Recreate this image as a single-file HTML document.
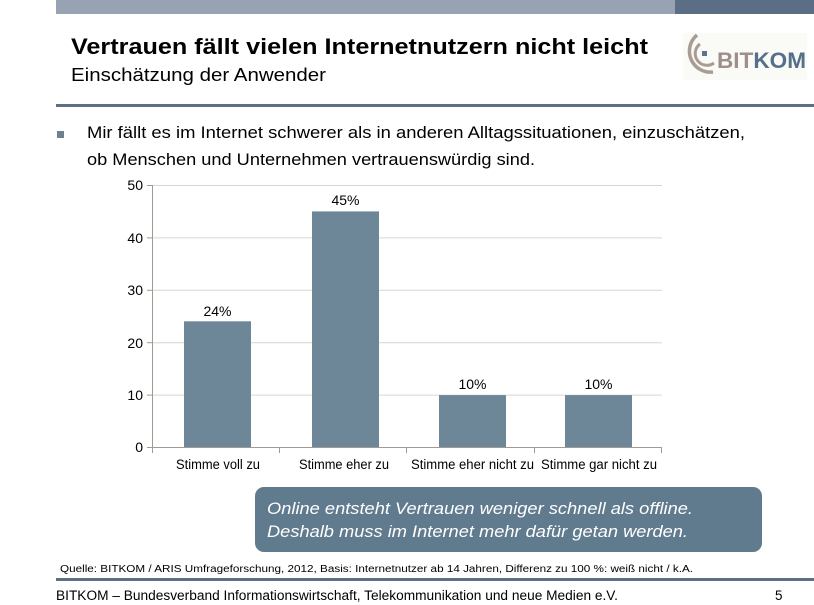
<!DOCTYPE html>
<html><head><meta charset="utf-8"><style>
html,body{margin:0;padding:0;background:#fff;}
svg{display:block;}
text{font-family:"Liberation Sans",Arial,sans-serif;}
</style></head><body>
<svg width="814" height="605" viewBox="0 0 814 605" xmlns="http://www.w3.org/2000/svg">
<rect x="0" y="0" width="814" height="605" fill="#fff"/>
<!-- top bar -->
<rect x="56" y="0" width="619" height="14" fill="#97a3b2"/>
<rect x="675" y="0" width="139" height="14" fill="#5b6e85"/>
<!-- title -->
<text x="71" y="54" font-size="22" font-weight="bold" fill="#000" textLength="577" lengthAdjust="spacingAndGlyphs">Vertrauen fällt vielen Internetnutzern nicht leicht</text>
<text x="71" y="81" font-size="18" fill="#000" textLength="255" lengthAdjust="spacingAndGlyphs">Einschätzung der Anwender</text>
<!-- logo -->
<rect x="683" y="33" width="124" height="47" fill="#fafaf7"/>
<path d="M 697 35 A 21 21 0 0 0 713 72" fill="none" stroke="#a99c95" stroke-width="3.5"/>
<path d="M 700 44 A 11 11 0 0 0 714 63" fill="none" stroke="#a99c95" stroke-width="3"/>
<rect x="702" y="51" width="5" height="5" fill="#5a7590"/>
<text x="717" y="68" font-size="22" font-weight="bold" fill="#9e8f88" textLength="89" lengthAdjust="spacingAndGlyphs">BIT<tspan fill="#55708a">KOM</tspan></text>
<!-- header line -->
<rect x="56" y="104" width="758" height="3" fill="#5d6f84"/>
<!-- bullet -->
<rect x="57" y="131" width="7" height="7" fill="#6d8190"/>
<text x="87" y="138" font-size="17" fill="#000" textLength="658" lengthAdjust="spacingAndGlyphs">Mir fällt es im Internet schwerer als in anderen Alltagssituationen, einzuschätzen,</text>
<text x="87" y="165" font-size="17" fill="#000" textLength="448" lengthAdjust="spacingAndGlyphs">ob Menschen und Unternehmen vertrauenswürdig sind.</text>
<!-- gridlines -->
<g stroke="#d9d6d0" stroke-width="1">
<line x1="153" y1="185.5" x2="662" y2="185.5"/>
<line x1="153" y1="237.9" x2="662" y2="237.9"/>
<line x1="153" y1="290.3" x2="662" y2="290.3"/>
<line x1="153" y1="342.7" x2="662" y2="342.7"/>
<line x1="153" y1="395.1" x2="662" y2="395.1"/>
</g>
<!-- bars -->
<g fill="#6d8798">
<rect x="184" y="321.3" width="67" height="126.2"/>
<rect x="312" y="211.4" width="67" height="236.1"/>
<rect x="439" y="395.1" width="67" height="52.4"/>
<rect x="565" y="395.1" width="67" height="52.4"/>
</g>
<!-- axes -->
<g stroke="#a19a93" stroke-width="1">
<line x1="152.5" y1="185" x2="152.5" y2="448"/>
<line x1="147" y1="447.5" x2="662" y2="447.5"/>
<line x1="147" y1="185.5" x2="152.5" y2="185.5"/>
<line x1="147" y1="237.9" x2="152.5" y2="237.9"/>
<line x1="147" y1="290.3" x2="152.5" y2="290.3"/>
<line x1="147" y1="342.7" x2="152.5" y2="342.7"/>
<line x1="147" y1="395.1" x2="152.5" y2="395.1"/>
<line x1="152.5" y1="447.5" x2="152.5" y2="453"/>
<line x1="279.5" y1="447.5" x2="279.5" y2="453"/>
<line x1="406.5" y1="447.5" x2="406.5" y2="453"/>
<line x1="534.5" y1="447.5" x2="534.5" y2="453"/>
<line x1="661.5" y1="447.5" x2="661.5" y2="453"/>
</g>
<!-- tick labels -->
<g font-size="14" fill="#000" text-anchor="end">
<text x="143" y="190">50</text>
<text x="143" y="243">40</text>
<text x="143" y="295">30</text>
<text x="143" y="348">20</text>
<text x="143" y="400">10</text>
<text x="143" y="452">0</text>
</g>
<!-- value labels -->
<g font-size="14" fill="#000" text-anchor="middle">
<text x="217.5" y="316">24%</text>
<text x="345.5" y="205">45%</text>
<text x="472.5" y="389">10%</text>
<text x="598.5" y="389">10%</text>
</g>
<!-- category labels -->
<g font-size="13.5" fill="#000" text-anchor="middle">
<text x="218" y="469" textLength="84" lengthAdjust="spacingAndGlyphs">Stimme voll zu</text>
<text x="344" y="469" textLength="90" lengthAdjust="spacingAndGlyphs">Stimme eher zu</text>
<text x="472.5" y="469" textLength="123" lengthAdjust="spacingAndGlyphs">Stimme eher nicht zu</text>
<text x="599" y="469" textLength="116" lengthAdjust="spacingAndGlyphs">Stimme gar nicht zu</text>
</g>
<!-- callout -->
<rect x="255" y="487" width="507" height="65" rx="9" ry="9" fill="#607a8e"/>
<text x="267" y="514" font-size="17" font-style="italic" fill="#fff" textLength="426" lengthAdjust="spacingAndGlyphs">Online entsteht Vertrauen weniger schnell als offline.</text>
<text x="267" y="537" font-size="17" font-style="italic" fill="#fff" textLength="421" lengthAdjust="spacingAndGlyphs">Deshalb muss im Internet mehr dafür getan werden.</text>
<!-- source -->
<text x="60" y="572" font-size="10" fill="#000" textLength="633" lengthAdjust="spacingAndGlyphs">Quelle: BITKOM / ARIS Umfrageforschung, 2012, Basis: Internetnutzer ab 14 Jahren, Differenz zu 100 %: weiß nicht / k.A.</text>
<!-- footer line -->
<rect x="56" y="578" width="758" height="3" fill="#5d6f84"/>
<text x="56" y="600" font-size="13.5" fill="#000" textLength="562" lengthAdjust="spacingAndGlyphs">BITKOM – Bundesverband Informationswirtschaft, Telekommunikation und neue Medien e.V.</text>
<text x="775" y="600" font-size="13.5" fill="#000">5</text>
</svg>
</body></html>
